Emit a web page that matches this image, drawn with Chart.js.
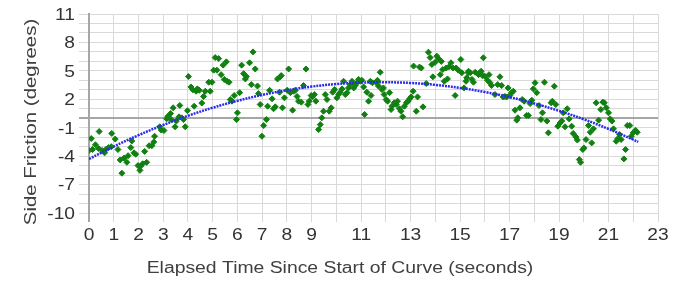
<!DOCTYPE html>
<html><head><meta charset="utf-8">
<script src="https://cdn.jsdelivr.net/npm/chart.js@4"></script>
<style>html,body{margin:0;padding:0;background:#fff}canvas{display:block}</style>
</head><body>
<canvas id="c" width="691" height="282"></canvas>
<script>
const timeSec = [
0.09,0.00,0.14,0.26,0.41,0.39,0.53,0.63,0.68,0.79,0.92,0.90,1.06,1.17,1.26,1.33,1.42,1.53,1.58,1.69,1.73,1.82,1.89,1.98,2.09,2.06,2.17,2.25,2.33,2.43,2.54,2.62,2.65,2.86,2.92,3.03,3.14,3.19,3.30,3.40,3.32,3.48,3.53,3.64,3.67,
3.75,3.82,3.89,3.98,4.02,4.12,4.20,4.25,4.33,4.38,4.46,4.56,4.63,4.70,4.84,4.90,4.97,5.04,5.10,5.17,5.24,5.34,5.42,5.47,5.55,5.58,5.66,5.71,5.78,5.87,5.96,6.00,6.09,6.17,6.25,6.32,6.36,6.49,6.56,6.63,6.72,6.81,6.85,6.92,6.99,7.06,7.17,7.22,7.30,7.40,7.46,7.53,7.62,7.70,
7.73,7.77,7.82,7.90,8.01,8.07,8.14,8.23,8.27,8.34,8.41,8.47,8.58,8.67,8.77,8.85,8.90,8.98,9.03,9.11,9.17,9.28,9.35,9.41,9.48,9.55,9.62,9.71,9.79,9.85,9.93,10.02,10.09,10.16,10.23,10.29,10.36,10.43,10.49,10.56,10.63,10.70,10.76,10.83,10.90,10.97,11.03,11.10,11.14,11.23,11.30,11.37,11.46,
11.40,11.60,11.66,11.77,11.70,11.84,11.90,11.93,12.01,12.07,12.15,12.21,12.25,12.34,12.42,12.47,12.55,12.61,12.68,12.75,12.83,12.90,12.96,13.02,13.10,13.12,13.23,13.28,13.36,13.43,13.50,13.63,13.72,13.79,13.86,13.90,13.99,14.06,14.13,14.20,14.24,14.30,14.36,14.44,14.49,14.55,14.63,14.71,14.80,14.84,14.93,15.03,15.07,15.16,15.24,15.33,
15.27,15.34,15.41,15.48,15.54,15.61,15.75,15.81,15.85,15.94,15.90,16.00,16.11,16.17,16.21,16.27,16.41,16.52,16.61,16.68,16.74,16.81,16.88,16.94,17.01,17.08,17.15,17.22,17.29,17.33,17.42,17.51,17.59,17.69,17.76,17.83,17.90,17.96,18.03,18.10,18.19,18.27,18.33,18.41,18.51,18.57,18.68,18.73,18.81,18.87,18.95,19.04,19.11,19.17,
19.24,19.33,19.41,19.51,19.57,19.68,19.74,19.82,19.87,19.96,20.01,20.09,20.19,20.26,20.32,20.39,20.50,20.60,20.69,20.77,20.83,20.91,21.00,21.07,21.14,21.20,21.31,21.37,21.45,21.51,21.62,21.69,21.76,21.86,21.92,22.00,22.09,22.16
];
const sideFriction = [
-2.14,-3.4,-3.3,-2.8,-1.4,-3.2,-3.4,-3.65,-3.3,-3.1,-1.6,-3.0,-2.2,-3.3,-4.4,-5.8,-4.2,-4.65,-3.95,-3.1,-2.4,-3.65,-3.8,-5.0,-5.05,-5.5,-4.8,-3.5,-4.65,-2.9,-2.9,-2.5,-1.9,-0.9,-1.25,-1.3,-0.06,0.2,0.5,1.1,-0.14,-0.9,-0.3,0.15,1.35,
0.04,-0.14,-0.9,0.8,4.4,3.3,3.0,1.27,2.85,3.1,2.95,1.6,2.3,2.85,3.8,2.85,3.8,5.07,6.4,5.07,6.3,4.6,5.6,4.1,5.95,3.9,3.8,1.97,1.8,2.4,-0.14,0.57,2.7,5.6,4.7,4.15,4.4,5.85,3.55,7.0,5.2,3.4,2.6,1.45,-1.9,-0.77,-0.14,1.27,2.95,2.05,1.0,1.2,4.15,2.75,
4.37,4.5,1.1,2.15,2.95,5.2,2.7,0.85,2.85,2.95,2.3,1.8,1.7,3.45,5.2,1.45,1.8,2.4,2.25,2.5,1.8,-1.2,-0.67,0.04,0.74,2.5,1.97,0.74,1.1,2.75,3.03,2.15,2.5,2.75,3.1,3.9,2.5,2.7,3.2,3.55,3.9,3.2,3.45,3.74,4.1,3.9,4.0,3.3,0.4,2.75,1.8,3.9,3.74,
2.4,3.8,4.0,4.85,3.4,3.03,3.2,2.5,1.97,1.8,2.7,0.92,1.27,1.63,1.45,1.8,1.0,0.74,0.15,1.27,1.63,1.8,2.05,2.25,2.85,5.5,0.74,2.25,5.4,5.3,1.2,3.66,6.97,6.4,5.67,4.37,5.9,6.55,6.27,4.6,6.0,5.14,3.9,5.3,4.15,5.43,5.85,5.3,2.4,5.3,5.07,6.2,4.8,3.2,3.9,4.8,
4.27,4.96,4.8,4.1,3.8,4.85,4.6,4.8,4.96,6.38,4.5,4.43,4.0,4.6,3.74,3.45,2.5,3.55,4.37,3.45,2.25,2.3,2.25,3.2,2.4,2.7,2.85,0.85,-0.2,0.04,1.1,1.97,1.8,0.29,0.29,1.55,1.9,3.1,3.74,2.7,1.34,-0.14,0.57,3.8,-0.3,-1.54,1.63,1.8,3.38,1.45,-0.84,-0.5,-0.3,0.57,
-0.9,1.0,-0.07,-0.84,-1.6,-1.97,-2.3,-4.36,-4.65,-3.3,-3.13,-2.25,-0.77,-1.48,-2.6,-1.12,1.63,-0.2,0.92,1.7,1.63,1.1,0.57,-0.07,-0.3,-1.12,-2.43,-2.17,-1.72,-2.25,-4.29,-3.3,-0.77,-0.77,-1.9,-1.54,-1.27,-1.48
];
const trendTime = [0,1,2,3,4,5,6,7,8,9,10,11,12,13,14,15,16,17,18,19,20,21,22,22.2];
const trendFriction = [-4.3,-2.99,-1.79,-0.71,0.26,1.11,1.84,2.46,2.96,3.34,3.61,3.76,3.8,3.72,3.52,3.2,2.77,2.23,1.56,0.78,-0.11,-1.13,-2.26,-2.5];
const xTickLabels = [0,1,2,3,4,5,6,7,8,9,11,13,15,17,19,21,23];
const yTickLabels = [-10,-7,-4,-1,2,5,8,11];
const xTitle = 'Elapsed Time Since Start of Curve (seconds)';
const yTitle = 'Side Friction (degrees)';

const scatterPts = timeSec.map((t,i)=>({x:t,y:sideFriction[i]}));
const trendPts = trendTime.map((t,i)=>({x:t,y:trendFriction[i]}));
const FAMILY = '"Liberation Sans", Arial, sans-serif';
const SX = 1.2; // horizontal text stretch seen in the reference
const gridColor = ctx => (ctx.tick && ctx.tick.value === 0) ? '#a6a6a6' : '#d9d9d9';
const gridWidth = ctx => (ctx.tick && ctx.tick.value === 0) ? 2 : 1;

function drawText(ctx, text, x, y, align, rot, sx) {
  ctx.save();
  ctx.translate(x, y);
  if (rot) ctx.rotate(rot);
  ctx.scale(sx, 1);
  ctx.textAlign = align;
  ctx.textBaseline = 'alphabetic';
  ctx.fillText(text, 0, 0);
  ctx.restore();
}

const labelPlugin = {
  id: 'axisText',
  afterDraw(chart) {
    const ctx = chart.ctx, xs = chart.scales.x, ys = chart.scales.y;
    ctx.save();
    ctx.fillStyle = '#333';
    ctx.font = '16px ' + FAMILY;
    ys.ticks.forEach((t, i) => {
      if (!yTickLabels.includes(t.value)) return;
      drawText(ctx, String(t.value), 75, ys.getPixelForTick(i) + 5.8, 'right', 0, SX);
    });
    xs.ticks.forEach((t, i) => {
      if (!xTickLabels.includes(t.value)) return;
      drawText(ctx, String(t.value), xs.getPixelForTick(i), 240, 'center', 0, SX);
    });
    ctx.fillStyle = '#404040';
    drawText(ctx, xTitle, 340, 273, 'center', 0, 1.21);
    ctx.font = '17px ' + FAMILY;
    drawText(ctx, yTitle, 36, 122, 'center', -Math.PI / 2, 1.2);
    ctx.restore();
  }
};

new Chart(document.getElementById('c'), {
  type:'scatter',
  data:{datasets:[
    {type:'line', data:trendPts, borderColor:'#2a2af0', borderWidth:2.5, borderDash:[2,1], pointRadius:0, tension:0.4, fill:false, order:0},
    {data:scatterPts, pointStyle:'rectRot', pointRadius:3, backgroundColor:'#118011', borderColor:'#118011', borderWidth:1, order:1}
  ]},
  plugins:[labelPlugin],
  options:{
    responsive:false, animation:false, devicePixelRatio:1,
    layout:{padding:{left:0,right:33,top:14,bottom:0}},
    plugins:{legend:{display:false}, tooltip:{enabled:false}},
    scales:{
      x:{type:'linear', min:0, max:23,
        afterFit: s => { s.height = 69; },
        border:{color:'#d9d9d9'},
        grid:{color:gridColor, lineWidth:gridWidth, tickLength:9},
        ticks:{stepSize:1, autoSkip:false, maxRotation:0, display:false},
        title:{display:false}
      },
      y:{type:'linear', min:-10, max:11,
        afterFit: s => { s.width = 89; },
        border:{color:'#a6a6a6', width:2},
        grid:{color:gridColor, lineWidth:gridWidth, tickLength:10},
        ticks:{stepSize:1, autoSkip:false, display:false},
        title:{display:false}
      }
    }
  }
});
</script>
</body></html>
